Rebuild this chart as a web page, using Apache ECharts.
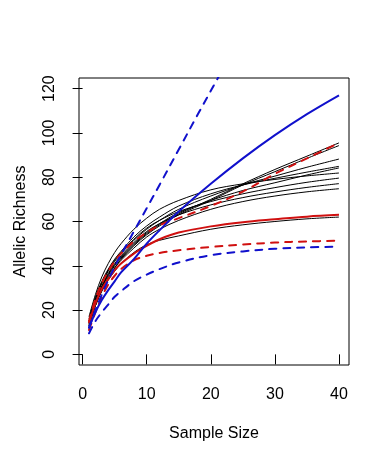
<!DOCTYPE html>
<html>
<head>
<meta charset="utf-8">
<script src="https://cdn.jsdelivr.net/npm/echarts@6/dist/echarts.min.js"></script>
<style>
html,body{margin:0;padding:0;background:#fff;}
#chart{width:390px;height:463px;}
</style>
</head>
<body>
<div id="chart"></div>
<script>
// Sample sizes at which values were read
var sampleSizes = [1, 2, 3, 4, 5, 6, 8, 10, 12, 15, 20, 25, 30, 35, 40];
var sampleSizesSteep = [1, 2, 3, 4, 5, 6, 8, 10, 12, 15, 18, 20, 22];

// Thin black rarefaction curves
var black1  = [14, 23, 30, 35.5, 40, 43.5, 49.5, 54.5, 58.5, 63.5, 70, 77, 83.5, 89.5, 95.5];
var black2  = [13, 22, 29, 34.5, 39, 43, 49, 54, 58, 63, 69.5, 76.5, 82.5, 88.5, 94.3];
var black3  = [15, 25, 32, 37.5, 42, 45.5, 51.5, 56.5, 60.5, 65.5, 71.5, 76.5, 80.5, 84.5, 88.2];
var black4  = [16, 26, 33, 38.5, 43, 46.5, 53, 58, 62, 67, 72.5, 76.5, 79.5, 82.3, 84.9];
var black5  = [14, 23.5, 30.5, 36, 40.5, 44, 50, 55, 59, 64, 69.5, 74, 77.5, 81, 84.2];
var black6  = [17, 27, 35, 41, 46, 50, 56.5, 61.5, 65.5, 69.5, 74.3, 77, 79, 80.6, 81.9];
var black7  = [15, 25, 32.5, 38, 42.5, 46, 52, 57, 60.5, 64.5, 69, 72.5, 75.3, 77.7, 79.6];
var black8  = [14, 24, 31, 36.5, 41, 44.5, 50.5, 55.5, 59, 63, 67.5, 70.8, 73.3, 75.4, 77.1];
var black9  = [13, 22, 29, 34.5, 39, 42.5, 48, 53, 56.5, 60.5, 65.5, 69, 71.5, 73.4, 74.8];
var black10 = [13, 22, 28.5, 33.5, 37.5, 41, 46, 49.5, 51.5, 53.5, 56.5, 58.5, 60, 61.2, 62];

// Red group: mean and dashed bounds
var redMean  = [14, 23, 29.5, 34, 38, 41, 45.5, 49, 52, 55, 57.8, 59.7, 61, 62.2, 63];
var redUpper = [15, 25, 32, 37.5, 42, 45.5, 51, 55, 58.3, 61.5, 67, 73.5, 81.5, 88.5, 95.5];
var redLower = [11, 19, 26, 31.5, 35.5, 38.5, 42.5, 44.5, 45.8, 47, 48.5, 49.6, 50.5, 51, 51.3];

// Blue group: mean and dashed bounds
var blueMean  = [12, 19, 24.5, 29, 33, 37, 43, 50, 56, 64.5, 77, 88.5, 99, 108.5, 117];
var blueUpper = [12, 20, 27, 33.5, 39.5, 45, 55.5, 66, 76.5, 92.5, 108.5, 119, 129.5];
var blueLower = [9.5, 15, 19, 22.5, 26, 28.5, 33, 36, 38.5, 41.5, 44.8, 46.5, 47.7, 48.3, 48.6];

// Axis ticks
var xTicks = [0, 10, 20, 30, 40];
var yTicks = [0, 20, 40, 60, 80, 100, 120];

function pairs(xs, ys) {
  var out = [];
  for (var i = 0; i < ys.length; i++) out.push([xs[i], ys[i]]);
  return out;
}

var FONT = '"Liberation Sans", Arial, sans-serif';
var blackSets = [black1, black2, black3, black4, black5, black6, black7, black8, black9, black10];
var series = [];
blackSets.forEach(function (arr) {
  series.push({
    type: 'line', data: pairs(sampleSizes, arr), showSymbol: false,
    smooth: 0.35, clip: true,
    lineStyle: { color: '#000000', width: 1 }
  });
});
function colored(xs, arr, color, dashed) {
  return {
    type: 'line', data: pairs(xs, arr), showSymbol: false,
    smooth: 0.35, clip: true,
    lineStyle: { color: color, width: 2, type: dashed ? [7, 7] : 'solid', cap: dashed ? 'round' : 'butt' }
  };
}
series.push(colored(sampleSizes, redLower, '#D01010', true));
series.push(colored(sampleSizes, redMean, '#D01010', false));
series.push(colored(sampleSizes, redUpper, '#D01010', true));
series.push(colored(sampleSizes, blueLower, '#1010CC', true));
series.push(colored(sampleSizesSteep, blueUpper, '#1010CC', true));
series.push(colored(sampleSizes, blueMean, '#1010CC', false));

var chart = echarts.init(document.getElementById('chart'), null, { renderer: 'canvas' });
chart.setOption({
  animation: false,
  backgroundColor: '#ffffff',
  grid: { left: 79, top: 78, right: 41, bottom: 98, containLabel: false, outerBoundsMode: 'none', show: true, borderColor: '#000', borderWidth: 1, backgroundColor: 'transparent' },
  xAxis: {
    type: 'value', min: -0.56, max: 41.56,
    name: 'Sample Size', nameLocation: 'middle', nameGap: 61,
    nameTextStyle: { fontFamily: FONT, fontSize: 16, color: '#000' },
    axisLine: { show: false },
    splitLine: { show: false },
    axisTick: { show: true, inside: false, length: 10, customValues: xTicks, lineStyle: { color: '#000', width: 1 } },
    axisLabel: { customValues: xTicks, margin: 22, fontFamily: FONT, fontSize: 16, color: '#000' }
  },
  yAxis: {
    type: 'value', min: -4.8, max: 124.8,
    name: 'Allelic Richness', nameLocation: 'middle', nameGap: 50,
    nameTextStyle: { fontFamily: FONT, fontSize: 16, color: '#000' },
    axisLine: { show: false },
    splitLine: { show: false },
    axisTick: { show: true, inside: false, length: 10, customValues: yTicks, lineStyle: { color: '#000', width: 1 } },
    axisLabel: { customValues: yTicks, rotate: 90, align: 'center', verticalAlign: 'bottom', margin: 21, fontFamily: FONT, fontSize: 16, color: '#000' }
  },
  series: series
});
</script>
</body>
</html>
